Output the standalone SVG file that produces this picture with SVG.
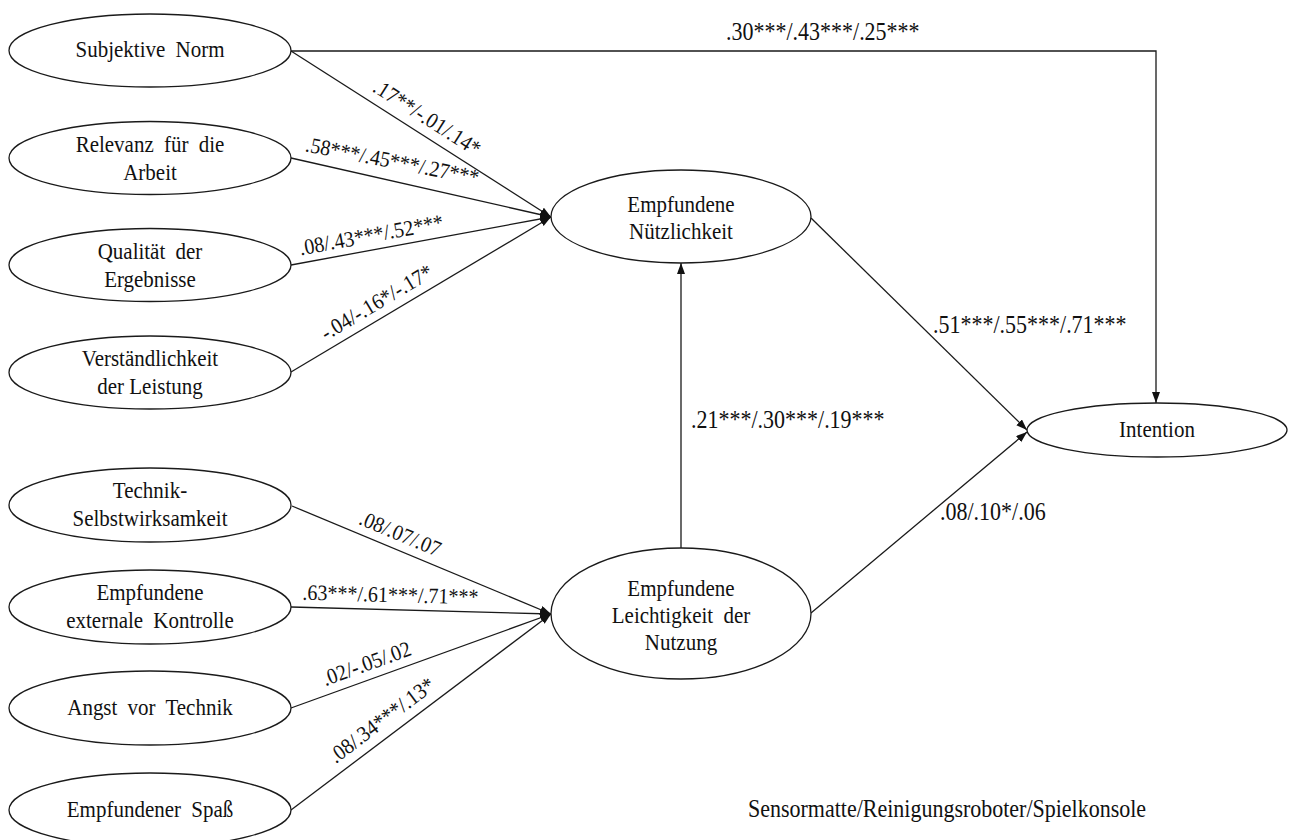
<svg xmlns="http://www.w3.org/2000/svg" width="1293" height="840" viewBox="0 0 1293 840" font-family="'Liberation Serif', 'Times New Roman', serif">
  <style>
    .node ellipse { fill: #ffffff; stroke: #1a1a1a; stroke-width: 1.3; }
    .node text, .lbl, .rlbl { font-family: "Liberation Serif", "Times New Roman", serif; fill: #111111; }
    .node text { font-size: 21px; text-anchor: middle; }
    .lbl { font-size: 22px; }
    .rlbl { font-size: 20px; text-anchor: middle; }
    .wide { word-spacing: 5px; }
    .edge { fill: none; stroke: #1a1a1a; stroke-width: 1.3; marker-end: url(#arrow); }
  </style>
  <defs>
    <marker id="arrow" markerUnits="userSpaceOnUse" markerWidth="12" markerHeight="9" refX="11" refY="4" orient="auto">
      <path d="M0,0 L11,4 L0,8 z" fill="#111111"/>
    </marker>
  </defs>
  <rect width="1293" height="840" fill="#ffffff"/>

  <!-- connectors -->
  <g id="connectors">
    <polyline class="edge" points="291,51 1156,51 1156,403"/>
    <line class="edge" x1="291" y1="51" x2="551" y2="217"/>
    <line class="edge" x1="291" y1="158" x2="551" y2="217"/>
    <line class="edge" x1="291" y1="265" x2="551" y2="217"/>
    <line class="edge" x1="291" y1="372" x2="551" y2="217"/>
    <line class="edge" x1="292" y1="506" x2="551" y2="614"/>
    <line class="edge" x1="291" y1="607" x2="551" y2="614"/>
    <line class="edge" x1="291" y1="708" x2="551" y2="614"/>
    <line class="edge" x1="291" y1="810" x2="551" y2="614"/>
    <line class="edge" x1="681" y1="548" x2="681" y2="263"/>
    <line class="edge" x1="811" y1="218" x2="1027" y2="430"/>
    <line class="edge" x1="811" y1="613" x2="1027" y2="432"/>

    <!-- path coefficients (glyphs slightly stretched vertically) -->
    <text class="lbl" transform="translate(726 40) scale(1 1.1)">.30***/.43***/.25***</text>
    <text class="rlbl" transform="translate(418 132) rotate(32.55) scale(1 1.1)" y="-9">.17**/-.01/.14*</text>
    <text class="rlbl" transform="translate(391 168) rotate(11) scale(1 1.1)">.58***/.45***/.27***</text>
    <text class="rlbl" transform="translate(374 249.7) rotate(-10.46) scale(1 1.1)" y="-7">.08/.43***/.52***</text>
    <text class="rlbl" transform="translate(385 316) rotate(-30.8) scale(1 1.1)" y="-8">-.04/-.16*/-.17*</text>
    <text class="rlbl" transform="translate(394 548.5) rotate(22.64) scale(1 1.1)" y="-8">.08/.07/.07</text>
    <text class="rlbl" transform="translate(390 609.7) rotate(1.54) scale(1 1.1)" y="-7">.63***/.61***/.71***</text>
    <text class="rlbl" transform="translate(372 678.7) rotate(-19.88) scale(1 1.1)" y="-8">.02/-.05/.02</text>
    <text class="rlbl" transform="translate(392 733.9) rotate(-37) scale(1 1.1)" y="-9">.08/.34***/.13*</text>
    <text class="lbl" transform="translate(933 333) scale(1 1.1)">.51***/.55***/.71***</text>
    <text class="lbl" transform="translate(691 428) scale(1 1.1)">.21***/.30***/.19***</text>
    <text class="lbl" transform="translate(940 520) scale(1 1.1)">.08/.10*/.06</text>
  </g>

  <!-- predictors of perceived usefulness -->
  <g id="subjektive-norm" class="node">
    <ellipse cx="150" cy="50.5" rx="141" ry="36.5"/>
    <g transform="translate(0 50.5) scale(1 1.12) translate(0 -50.5)">
      <text x="150" y="56.3" class="wide">Subjektive Norm</text>
    </g>
  </g>
  <g id="relevanz" class="node">
    <ellipse cx="150" cy="158" rx="141" ry="36.5"/>
    <g transform="translate(0 158) scale(1 1.12) translate(0 -158)">
      <text x="150" y="152.6" class="wide">Relevanz für die</text>
      <text x="150" y="177.6">Arbeit</text>
    </g>
  </g>
  <g id="qualitaet" class="node">
    <ellipse cx="150" cy="265" rx="141" ry="36.5"/>
    <g transform="translate(0 265) scale(1 1.12) translate(0 -265)">
      <text x="150" y="259.6" class="wide">Qualität der</text>
      <text x="150" y="284.6">Ergebnisse</text>
    </g>
  </g>
  <g id="verstaendlichkeit" class="node">
    <ellipse cx="150" cy="372.5" rx="141" ry="36.5"/>
    <g transform="translate(0 372.5) scale(1 1.12) translate(0 -372.5)">
      <text x="150" y="366.7">Verständlichkeit</text>
      <text x="150" y="391.7">der Leistung</text>
    </g>
  </g>

  <!-- predictors of perceived ease of use -->
  <g id="technik-selbstwirksamkeit" class="node">
    <ellipse cx="150" cy="505" rx="141" ry="37"/>
    <g transform="translate(0 505) scale(1 1.12) translate(0 -505)">
      <text x="150" y="498.75">Technik-</text>
      <text x="150" y="523.75">Selbstwirksamkeit</text>
    </g>
  </g>
  <g id="externale-kontrolle" class="node">
    <ellipse cx="150" cy="607" rx="141" ry="37"/>
    <g transform="translate(0 607) scale(1 1.12) translate(0 -607)">
      <text x="150" y="600.75">Empfundene</text>
      <text x="150" y="625.75" class="wide">externale Kontrolle</text>
    </g>
  </g>
  <g id="angst" class="node">
    <ellipse cx="150" cy="708" rx="141" ry="37"/>
    <g transform="translate(0 708) scale(1 1.12) translate(0 -708)">
      <text x="150" y="714.25" class="wide">Angst vor Technik</text>
    </g>
  </g>
  <g id="spass" class="node">
    <ellipse cx="150" cy="810" rx="141" ry="37"/>
    <g transform="translate(0 810) scale(1 1.12) translate(0 -810)">
      <text x="150" y="816.25" class="wide">Empfundener Spaß</text>
    </g>
  </g>

  <!-- core constructs -->
  <g id="nuetzlichkeit" class="node">
    <ellipse cx="681" cy="216.5" rx="130" ry="46.5"/>
    <g transform="translate(0 216.5) scale(1 1.12) translate(0 -216.5)">
      <text x="681" y="212.5">Empfundene</text>
      <text x="681" y="236.6">Nützlichkeit</text>
    </g>
  </g>
  <g id="leichtigkeit" class="node">
    <ellipse cx="681" cy="613.5" rx="130" ry="65.5"/>
    <g transform="translate(0 613.5) scale(1 1.12) translate(0 -613.5)">
      <text x="681" y="597.9">Empfundene</text>
      <text x="681" y="622" class="wide">Leichtigkeit der</text>
      <text x="681" y="646.1">Nutzung</text>
    </g>
  </g>
  <g id="intention" class="node">
    <ellipse cx="1157" cy="430" rx="130" ry="27"/>
    <g transform="translate(0 430) scale(1 1.12) translate(0 -430)">
      <text x="1157" y="436.25">Intention</text>
    </g>
  </g>

  <text class="lbl" transform="translate(748 817) scale(1 1.1)">Sensormatte/Reinigungsroboter/Spielkonsole</text>
</svg>
